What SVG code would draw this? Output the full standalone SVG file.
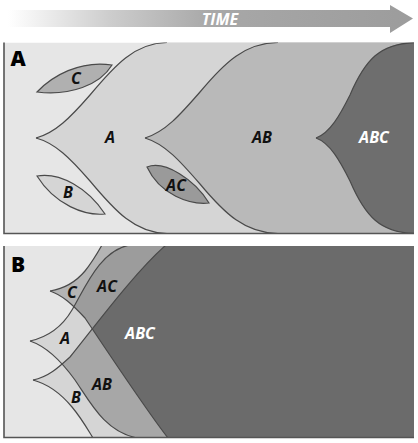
<svg xmlns="http://www.w3.org/2000/svg" width="418" height="443" viewBox="0 0 418 443">
<style>
.bd{fill:none;stroke:#4a4a4a;stroke-width:1.2}
.lf{stroke:#4a4a4a;stroke-width:1.2}
.frame{fill:none;stroke:#555;stroke-width:1.6}
.lb{font-family:"Open Sans","Liberation Sans",sans-serif;font-weight:bold;font-style:italic;font-size:16px;text-anchor:middle;fill:#111}
.lw{fill:#fff}
.pl{font-family:"Open Sans","Liberation Sans",sans-serif;font-weight:800;font-size:21px;text-anchor:middle;fill:#000}
</style>
<defs>
<linearGradient id="tg" gradientUnits="userSpaceOnUse" x1="8" y1="0" x2="413" y2="0">
<stop offset="0" stop-color="#ffffff"/>
<stop offset="0.25" stop-color="#cdcdcd"/>
<stop offset="0.5" stop-color="#a8a8a8"/>
<stop offset="1" stop-color="#9c9c9c"/>
</linearGradient>
<clipPath id="cpPA"><rect x="4" y="42.5" width="410" height="191"/></clipPath>
<clipPath id="cpPB"><rect x="4" y="246" width="410" height="191.5"/></clipPath>
<clipPath id="cpA"><path d="M30,341 C48,337 62,327 72,310 C85,288 100,250 130,245 L130,240 L420,240 L420,445 L137,445 L137,438 C105,432 90,402 75,380 C62,362 48,347 30,341 Z"/></clipPath>
<clipPath id="cpB"><path d="M33,380 C48,377 58,368 70,357 C95,326 135,272 166,245 L166,240 L420,240 L420,445 L93,445 L93,438 C88,430 82,419 72,407 C62,395 48,384 33,380 Z"/></clipPath>
</defs>

<g id="time-arrow">
<polygon points="8,10 390,10 390,5 413,18.5 390,33 390,27 8,27" fill="url(#tg)"/>
<text x="220" y="25" class="lb lw" font-size="15">TIME</text>
</g>

<g id="panelA">
<g clip-path="url(#cpPA)">
<rect x="4" y="42.5" width="410" height="191" fill="#e6e6e6"/>
<g id="A-region">
<path d="M36,138 C55,133 70,118 90,95 C115,65 135,43 167,42.5 L167,38 L420,38 L420,240 L167,240 L167,233.5 C135,233 115,211 90,181 C70,158 55,143 36,138 Z" fill="#d5d5d5"/>
</g>
<g id="AB-region">
<path d="M145,138 C165,132 180,115 200,92 C225,62 245,43 278,42.5 L278,38 L420,38 L420,240 L278,240 L278,233.5 C245,233 225,214 200,184 C180,161 165,144 145,138 Z" fill="#b9b9b9"/>
</g>
<g id="ABC-region">
<path d="M316,138 C330,133 340,115 350,95 C365,60 380,43 416,42.5 L420,38 L420,240 L416,240 L416,233.5 C380,233 365,216 350,181 C340,161 330,143 316,138 Z" fill="#6e6e6e"/>
</g>
<g id="boundariesA">
<path class="bd" d="M36,138 C55,133 70,118 90,95 C115,65 135,43 167,42.5"/>
<path class="bd" d="M36,138 C55,143 70,158 90,181 C115,211 135,233 167,233.5"/>
<path class="bd" d="M145,138 C165,132 180,115 200,92 C225,62 245,43 278,42.5"/>
<path class="bd" d="M145,138 C165,144 180,161 200,184 C225,214 245,233 278,233.5"/>
<path class="bd" d="M316,138 C330,133 340,115 350,95 C365,60 380,43 416,42.5"/>
<path class="bd" d="M316,138 C330,143 340,161 350,181 C365,216 380,233 416,233.5"/>
</g>
</g>
<g id="C-leaf">
<path class="lf" d="M37,92 C52,76 80,60 112,65 C100,85 70,96 37,92 Z" fill="#b0b0b0"/>
<text class="lb" x="76" y="84">C</text>
</g>
<g id="B-leaf">
<path class="lf" d="M37,176 C60,172 88,188 105,214 C85,216 55,205 37,176 Z" fill="#d5d5d5"/>
<text class="lb" x="68" y="198">B</text>
</g>
<g id="AC-leaf">
<path class="lf" d="M147,167 C165,160 195,180 209,203 C190,205 160,195 147,167 Z" fill="#9a9a9a"/>
<text class="lb" x="176" y="191">AC</text>
</g>
<text class="lb" x="110" y="143">A</text>
<text class="lb" x="262" y="143">AB</text>
<text class="lb lw" x="374" y="143">ABC</text>
<path class="frame" d="M4,42.5 V233.5 H414"/>
<text class="pl" x="18" y="66">A</text>
</g>

<g id="panelB">
<g clip-path="url(#cpPB)">
<rect x="4" y="246" width="410" height="191.5" fill="#e6e6e6"/>
<g id="B-A-region"><path d="M30,341 C48,337 62,327 72,310 C85,288 100,250 130,245 L130,240 L420,240 L420,445 L137,445 L137,438 C105,432 90,402 75,380 C62,362 48,347 30,341 Z" fill="#d5d5d5"/></g>
<g id="B-B-region"><path d="M33,380 C48,377 58,368 70,357 C95,326 135,272 166,245 L166,240 L420,240 L420,445 L93,445 L93,438 C88,430 82,419 72,407 C62,395 48,384 33,380 Z" fill="#d5d5d5"/></g>
<g id="B-C-region"><path d="M50,291 C62,289 75,283 85,271 C93,261 98,252 102,245 L102,240 L420,240 L420,445 L168,445 L168,438 C150,415 105,348 85,318 C72,304 62,295 50,291 Z" fill="#b4b4b4"/></g>
<g id="B-AB-region" clip-path="url(#cpA)"><path d="M33,380 C48,377 58,368 70,357 C95,326 135,272 166,245 L166,240 L420,240 L420,445 L93,445 L93,438 C88,430 82,419 72,407 C62,395 48,384 33,380 Z" fill="#a7a7a7"/></g>
<g id="B-AC-region" clip-path="url(#cpA)"><path d="M50,291 C62,289 75,283 85,271 C93,261 98,252 102,245 L102,240 L420,240 L420,445 L168,445 L168,438 C150,415 105,348 85,318 C72,304 62,295 50,291 Z" fill="#9c9c9c"/></g>
<g id="B-ABC-region" clip-path="url(#cpA)"><g clip-path="url(#cpB)"><path d="M50,291 C62,289 75,283 85,271 C93,261 98,252 102,245 L102,240 L420,240 L420,445 L168,445 L168,438 C150,415 105,348 85,318 C72,304 62,295 50,291 Z" fill="#6b6b6b"/></g></g>
<g id="boundariesB">
<path class="bd" d="M50,291 C62,289 75,283 85,271 C93,261 98,252 102,245"/>
<path class="bd" d="M50,291 C62,295 72,304 85,318 C105,348 150,415 168,438"/>
<path class="bd" d="M30,341 C48,337 62,327 72,310 C85,288 100,250 130,245"/>
<path class="bd" d="M30,341 C48,347 62,362 75,380 C90,402 105,432 137,438"/>
<path class="bd" d="M33,380 C48,377 58,368 70,357 C95,326 135,272 166,245"/>
<path class="bd" d="M33,380 C48,384 62,395 72,407 C82,419 88,430 93,438"/>
</g>
</g>
<text class="lb" x="72" y="298">C</text>
<text class="lb" x="107" y="292">AC</text>
<text class="lb" x="65" y="344">A</text>
<text class="lb lw" x="140" y="339">ABC</text>
<text class="lb" x="102" y="390">AB</text>
<text class="lb" x="76" y="403">B</text>
<path class="frame" d="M4,246 V437.5 H414"/>
<text class="pl" x="18" y="272">B</text>
</g>
</svg>
